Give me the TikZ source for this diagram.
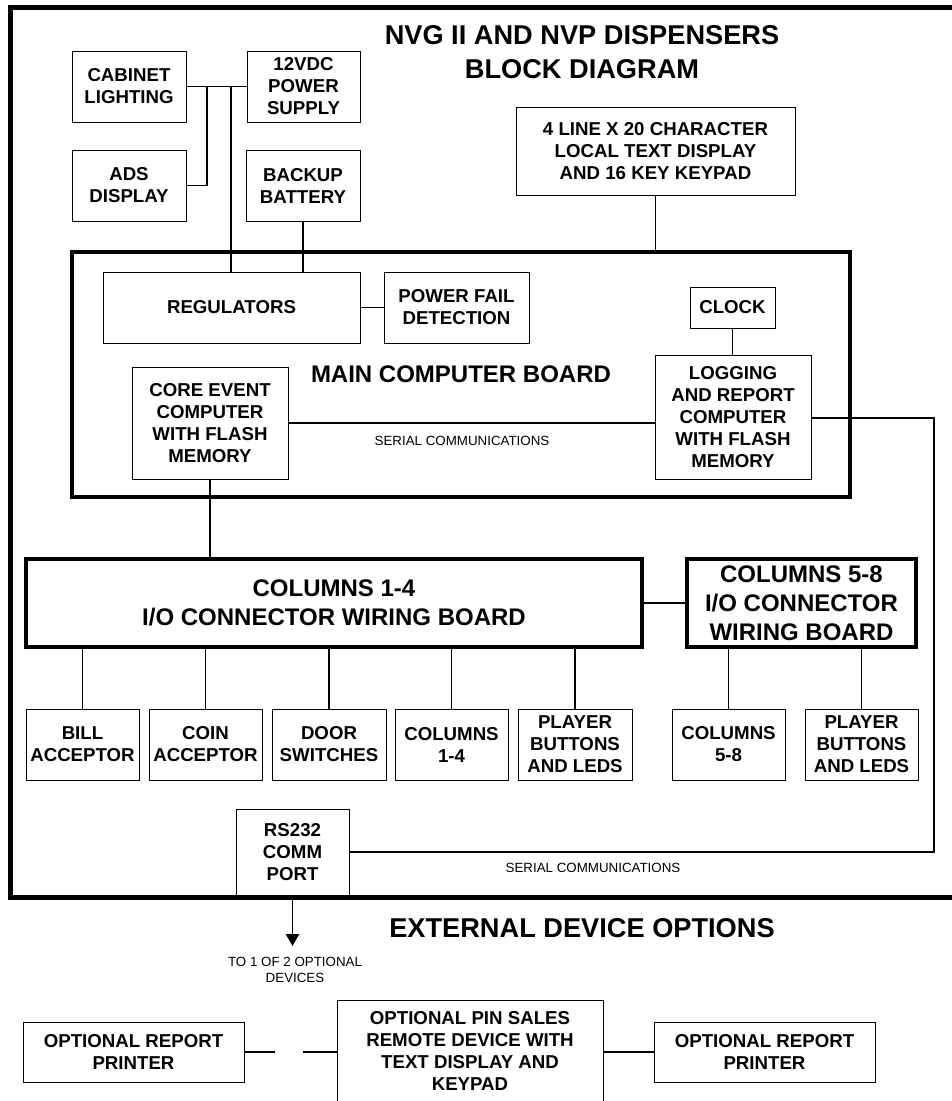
\documentclass[tikz,border=0pt]{standalone}
\usepackage{fontspec}
\setmainfont{Liberation Sans}
\usetikzlibrary{arrows.meta}
\newcommand\bodyfnt{\bfseries\fontsize{14}{16.5}\selectfont}
\newcommand\titlefnt{\bfseries\fontsize{20.4}{25.5}\selectfont}
\newcommand\boardfnt{\bfseries\fontsize{18}{21.6}\selectfont}
\newcommand\smallfnt{\fontsize{10}{12.5}\selectfont}
\tikzset{
  bx/.style={draw, line width=0.75pt, inner sep=0pt, outer sep=0pt, align=center, font=\bodyfnt},
  board/.style={bx, line width=2.4pt, font=\boardfnt},
  conn/.style={line width=1pt},
  lbl/.style={inner sep=0pt, align=center},
}
% \blk[style]{name}{x1}{y1}{x2}{y2}{text}  (pixel coordinates of the corners)
\newcommand\blk[7][bx]{%
  \node[#1, minimum width={(#5-#3)*0.75pt}, minimum height={(#6-#4)*0.75pt}]
    (#2) at ({(#3+#5)/2},{(#4+#6)/2}) {#7};}
\begin{document}
\begin{tikzpicture}[x=0.75pt,y=-0.75pt]
\useasboundingbox (0,0) rectangle (952,1101);
% outer frame (right side off the picture)
\draw[line width=3.75pt] (970,7) -- (10,7) -- (10,897) -- (970,897);

\node[lbl, font=\titlefnt] (title) at (582,52) {NVG II AND NVP DISPENSERS\\BLOCK DIAGRAM};

\blk{cab}{72}{51}{186}{122}{CABINET\\LIGHTING}
\blk{ps}{247}{51}{360}{122}{12VDC\\POWER\\SUPPLY}
\blk{ads}{72}{150}{186}{221}{ADS\\DISPLAY}
\blk{bat}{246}{150}{360}{221}{BACKUP\\BATTERY}
\blk{disp}{516}{107}{795}{195}{4 LINE X 20 CHARACTER\\LOCAL TEXT DISPLAY\\AND 16 KEY KEYPAD}

\blk[bx, line width=2.6pt]{main}{72}{252}{850}{497}{}
\node[lbl, font=\boardfnt] (mainlbl) at (461,374) {MAIN COMPUTER BOARD};
\blk{reg}{103}{272}{360}{343}{REGULATORS}
\blk{pfd}{384}{272}{529}{343}{POWER FAIL\\DETECTION}
\blk{clock}{690}{287}{775}{328}{CLOCK}
\blk{log}{655}{355}{811}{479}{LOGGING\\AND REPORT\\COMPUTER\\WITH FLASH\\MEMORY}
\blk{core}{132}{367}{288}{479}{CORE EVENT\\COMPUTER\\WITH FLASH\\MEMORY}
\node[lbl, font=\smallfnt] (ser1) at (462,441) {SERIAL COMMUNICATIONS};

\blk[board]{io14}{26}{559}{642}{647}{COLUMNS 1-4\\I/O CONNECTOR WIRING BOARD}
\blk[board]{io58}{687}{559}{916}{647}{COLUMNS 5-8\\I/O CONNECTOR\\WIRING BOARD}

\blk{bill}{26}{709}{139}{780}{BILL\\ACCEPTOR}
\blk{coin}{149}{709}{262}{780}{COIN\\ACCEPTOR}
\blk{door}{272}{709}{386}{780}{DOOR\\SWITCHES}
\blk{c14}{395}{709}{508}{780}{COLUMNS\\1-4}
\blk{pl1}{518}{709}{632}{780}{PLAYER\\BUTTONS\\AND LEDS}
\blk{c58}{672}{709}{785}{780}{COLUMNS\\5-8}
\blk{pl2}{805}{709}{918}{780}{PLAYER\\BUTTONS\\AND LEDS}

\blk{rs}{236}{809}{349}{895}{RS232\\COMM\\PORT}
\node[lbl, font=\smallfnt] (ser2) at (593,868) {SERIAL COMMUNICATIONS};

\node[lbl, font=\titlefnt] (ext) at (582,928) {EXTERNAL DEVICE OPTIONS};
\node[lbl, font=\smallfnt] (todev) at (295,970) {TO 1 OF 2 OPTIONAL\\DEVICES};

\blk{prl}{23}{1022}{244}{1082}{OPTIONAL REPORT\\PRINTER}
\blk{pin}{337}{1000}{603}{1102}{OPTIONAL PIN SALES\\REMOTE DEVICE WITH\\TEXT DISPLAY AND\\KEYPAD}
\blk{prr}{654}{1022}{875}{1082}{OPTIONAL REPORT\\PRINTER}

% coordinates
\coordinate (j1) at (207,86.5);
\coordinate (j2) at (231,86.5);
\coordinate (rt) at (934,852);
\coordinate (tip) at (292.5,946);
\coordinate (gapl) at (275,1052);
\coordinate (gapr) at (303,1052);

% connectors
\draw[conn] (cab.east) -- (ps.west);
\draw[conn] (ads.east) -| (j1);
\draw[conn] (j2) -- (j2 |- reg.north);
\draw[conn] (bat.south) -- (bat.south |- reg.north);
\draw[conn] (disp.south) -- (disp.south |- main.north);
\draw[conn] (reg.east) -- (pfd.west);
\draw[conn] (clock.south) -- (clock.south |- log.north);
\draw[conn] (core.east) -- (core.east -| log.west);
\draw[conn] (core.south) -- (core.south |- io14.north);
\draw[conn] (io14.east) -- (io58.west);
\foreach \n in {bill,coin,door,c14,pl1}
  \draw[conn] (\n.north) -- (\n.north |- io14.south);
\foreach \n in {c58,pl2}
  \draw[conn] (\n.north) -- (\n.north |- io58.south);
\draw[conn] (log.east |- 0,418) -| (rt) -- (rs.east |- rt);
\draw[conn, -{Triangle[width=10pt,length=9pt]}] (rs.south) -- (tip);
\draw[conn] (prl.east |- gapl) -- (gapl);
\draw[conn] (gapr) -- (pin.west |- gapr);
\draw[conn] (pin.east |- prr.west) -- (prr.west);
\end{tikzpicture}
\end{document}
